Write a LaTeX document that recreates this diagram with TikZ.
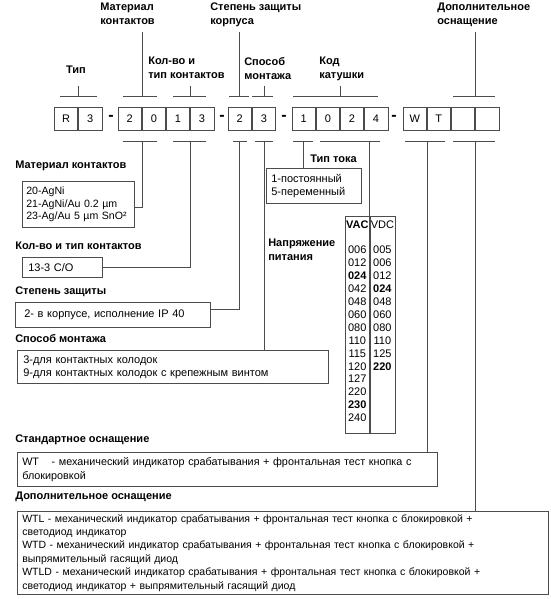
\documentclass[tikz,border=0pt]{standalone}
\usepackage{fontspec}
\setmainfont{Liberation Sans}
\usetikzlibrary{positioning}
\definecolor{lncol}{gray}{0.3}

\begin{document}
\begin{tikzpicture}[x=1pt,y=-1pt,line width=0.6pt,
    every node/.style={font=\fontsize{11}{13}\selectfont},
    cell/.style={draw=lncol,minimum width=23.5,minimum height=23,inner sep=0pt},
    hyph/.style={font=\fontsize{16}{16}\selectfont\bfseries,inner sep=0pt},
    headtext/.style={font=\fontsize{11}{14}\selectfont\bfseries,inner sep=0pt,align=left},
    note/.style={draw=lncol,anchor=north west,align=left,inner xsep=6pt,inner ysep=0pt},
    brk/.style={draw=lncol}]
\useasboundingbox (0,0) rectangle (550,599);

% order code
\node[cell] (t1) at (66,118.5) {R};
\node[cell,right=0pt of t1] (t2) {3};
\node[hyph] (h1) at (111,118) {-};
\node[cell] (m1) at (129.75,118.5) {2};
\node[cell,right=0pt of m1] (m2) {0};
\node[cell,right=0pt of m2] (k1) {1};
\node[cell,right=0pt of k1] (k2) {3};
\node[hyph] (h2) at (222,118) {-};
\node[cell] (s1) at (239.75,118.5) {2};
\node[cell,right=0pt of s1] (s2) {3};
\node[hyph] (h3) at (284,118) {-};
\node[cell] (c1) at (303.75,118.5) {1};
\node[cell,right=0pt of c1] (c2) {0};
\node[cell,right=0pt of c2] (c3) {2};
\node[cell,right=0pt of c3] (c4) {4};
\node[hyph] (h4) at (394,118) {-};
\node[cell] (w1) at (414.75,118.5) {W};
\node[cell,right=0pt of w1] (w2) {T};
\node[cell,right=0pt of w2] (w3) {};
\node[cell,right=0pt of w3] (w4) {};

% labels above
\node[headtext] (lTip) at (76,70) {Тип};
\node[headtext,anchor=north west] (lMat) at (100,3) {Материал\\контактов};
\node[headtext,anchor=north west] (lKol) at (148,57) {Кол-во и\\тип контактов};
\node[headtext,anchor=north west] (lSt) at (210,3) {Степень защиты\\корпуса};
\node[headtext,anchor=north west] (lSp) at (244,57) {Способ\\монтажа};
\node[headtext,anchor=north west] (lKod) at (319,57) {Код\\катушки};
\node[headtext,anchor=north west] (lDop) at (437,3) {Дополнительное\\ оснащение};

% brackets above
\draw[brk] (60,96) -- (97,96) (t1.east |- 0,96) -- (t1.east |- 0,86);
\draw[brk] (123,96) -- (157,96) (m1.east |- 0,96) -- (m1.east |- 0,32);
\draw[brk] (173,96) -- (206,96) (190,96) -- (190,86);
\draw[brk] (229,96) -- (249,96) (s1 |- 0,96) -- (s1 |- 0,32);
\draw[brk] (252,96) -- (273,96) (s2 |- 0,96) -- (s2 |- 0,86);
\draw[brk] (293,96) -- (378,96) (c2.east |- 0,96) -- (c2.east |- 0,86);
\draw[brk] (453,96) -- (495,96) (475,96) -- (475,32);

% brackets below
\draw[brk] (123,141) -- (157,141);  \coordinate (bMat) at (m1.east |- 0,141);
\draw[brk] (173,141) -- (206,141);  \coordinate (bKol) at (190,141);
\draw[brk] (233,141) -- (247,141);  \coordinate (bSt) at (s1 |- 0,141);
\draw[brk] (255,141) -- (273,141);  \coordinate (bSp) at (s2 |- 0,141);
\draw[brk] (293,141) -- (313,141);  \coordinate (bTok) at (303,141);
\draw[brk] (320,141) -- (380,141);  \coordinate (bNap) at (369,141);
\draw[brk] (405,141) -- (445,141);  \coordinate (bW) at (w1.east |- 0,141);
\draw[brk] (453,141) -- (495,141);  \coordinate (bDop) at (475,141);

% left column
\node[headtext,anchor=west] (lMatT) at (15,166) {Материал контактов};
\node[note,inner xsep=4pt,text width=104,minimum height=46,font=\fontsize{10.6}{12.6}\selectfont] (matBox) at (22,181)
    {20-AgNi\\21-AgNi/Au 0.2 µm\\23-Ag/Au 5 µm SnO²};
\node[headtext,anchor=west] (lKolT) at (15,246) {Кол-во и тип контактов};
\node[note,text width=68,minimum height=20] (kolBox) at (22,257) {13-3 C/O};
\node[headtext,anchor=west] (lStT) at (15,292) {Степень защиты};
\node[note,inner xsep=9pt,text width=177,minimum height=25] (stBox) at (15,302)
    {2- в корпусе, исполнение IP 40};
\node[headtext,anchor=west] (lSpT) at (15,339) {Способ монтажа};
\node[note,text width=299,minimum height=33] (spBox) at (17,350)
    {3-для контактных колодок\\9-для контактных колодок с крепежным винтом};

% coil
\node[headtext,anchor=west] (lTokT) at (310,159) {Тип тока};
\node[note,inner xsep=5pt,text width=85,minimum height=35] (tokBox) at (266,168)
    {1-постоянный\\5-переменный};
\node[headtext,anchor=north west] (lNapT) at (268,239) {Напряжение\\питания};
\node[draw=lncol,anchor=north west,minimum width=24,minimum height=217,inner sep=0pt] (vac) at (345,216) {};
\node[draw=lncol,anchor=north west,minimum width=25,minimum height=217,inner sep=0pt] (vdc) at (vac.north east) {};
\node[anchor=north,inner sep=0pt,align=center,font=\fontsize{11}{12.9}\selectfont] (vacList) at (vac.north |- 0,221)
    {\textbf{VAC}\\[12.1pt]006\\012\\\textbf{024}\\042\\048\\060\\080\\110\\115\\120\\127\\220\\\textbf{230}\\240};
\node[anchor=north,inner sep=0pt,align=center,font=\fontsize{11}{12.9}\selectfont] (vdcList) at (vdc.north |- 0,221)
    {VDC\\[12.1pt]005\\006\\012\\\textbf{024}\\048\\060\\080\\110\\125\\\textbf{220}};

% equipment
\node[headtext,anchor=west] (lStdT) at (15,440) {Стандартное оснащение};
\node[note,inner xsep=5pt,text width=410,minimum height=34,font=\fontsize{10.8}{14}\selectfont] (stdBox) at (17,452)
    {WT\hspace{9pt} - механический индикатор срабатывания + фронтальная тест кнопка с\\блокировкой};
\node[headtext,anchor=west] (lDopT) at (15,497) {Дополнительное оснащение};
\node[note,inner xsep=5pt,text width=521,minimum height=83,font=\fontsize{10.5}{13.4}\selectfont] (dopBox) at (17,511)
    {WTL - механический индикатор срабатывания + фронтальная тест кнопка с блокировкой +\\
     светодиод индикатор\\
     WTD - механический индикатор срабатывания + фронтальная тест кнопка с блокировкой +\\
     выпрямительный гасящий диод\\
     WTLD - механический индикатор срабатывания + фронтальная тест кнопка с блокировкой +\\
     светодиод индикатор + выпрямительный гасящий диод};

% connectors
\draw[brk] (bMat) |- ([yshift=-3pt]matBox.east);
\draw[brk] (bKol) |- (kolBox.east);
\draw[brk] (bSt) |- ([yshift=6pt]stBox.east);
\draw[brk] (bSp) -- (bSp |- spBox.north);
\draw[brk] (bTok) -- (bTok |- tokBox.north);
\draw[brk] (bNap) -- (bNap |- vac.north);
\draw[brk] (bW) -- (bW |- stdBox.north);
\draw[brk] (bDop) -- (bDop |- dopBox.north);
\end{tikzpicture}
\end{document}
